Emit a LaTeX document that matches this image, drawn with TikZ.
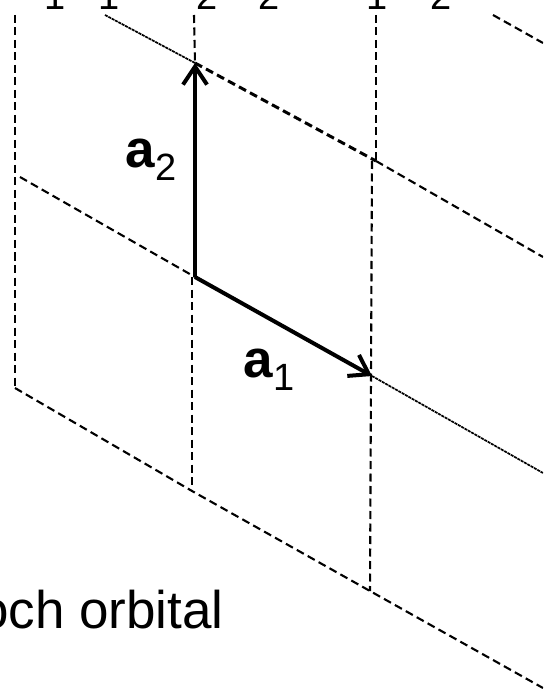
\documentclass[tikz,border=0pt]{standalone}
\usepackage{fontspec}
\setmainfont{Liberation Sans}
\usetikzlibrary{arrows.meta}
\tikzset{
  grid/.style={dash pattern=on 8pt off 4.5pt, line width=2.1pt},
  gridbold/.style={dash pattern=on 8pt off 4.5pt, line width=3pt},
  gridfine/.style={dash pattern=on 3pt off 0.8pt, line width=1.7pt},
  vec/.style={line width=4pt, -{Straight Barb[length=18pt, width=24pt, line width=4pt]}},
  big/.style={font=\fontsize{53}{60}\selectfont, inner sep=0pt},
  sub/.style={font=\fontsize{38}{40}\selectfont, inner sep=0pt}
}
\newcommand{\vecsub}[2]{\textbf{#1}{\fontsize{38}{40}\selectfont\raisebox{-13pt}{#2}}}
\begin{document}
\begin{tikzpicture}[x=1pt, y=-1pt]
  \useasboundingbox (0,0) rectangle (543,692);
  \clip (0,0) rectangle (543,692);
  % lattice points
  \coordinate (O) at (195,277);
  \coordinate (A1) at (372,376);
  \coordinate (A2) at (195,63);
  \coordinate (B1) at (376,161);
  \coordinate (C0) at (15,388);
  \coordinate (C1) at (192,491);
  \coordinate (C2) at (370,591);
  % vertical grid lines
  \draw[grid] (15,15) -- (C0);
  \draw[grid] (194,15) -- (A2);
  \draw[grid] (192,277) -- (C1);
  \draw[grid] (376,15) -- (B1);
  \draw[grid] (372,161) -- (C2);
  % slanted grid lines
  \draw[gridfine] (105,15) -- (A2);
  \draw[gridbold] (A2) -- (B1);
  \draw[grid] (B1) -- (543,257);
  \draw[grid] (20,177) -- (O);
  \draw[gridfine] (A1) -- (543,473);
  \draw[grid] (C0) -- (C1) -- (C2) -- (543,688);
  \draw[grid] (493,15) -- (543,43);
  % lattice vectors
  \draw[vec] (O) -- (A1);
  \draw[vec] (O) -- (A2);
  \node[big, anchor=base west] (la2) at (125,168) {\vecsub{a}{2}};
  \node[big, anchor=base west] (la1) at (243,377) {\vecsub{a}{1}};
  % cut text
  \node[big, anchor=base east] (bloch) at (224,628) {Bloch orbital};
  \foreach \x/\d [count=\i] in {55/1, 109/1, 207/2, 269/2, 377/1, 441/2}
    \node[sub, anchor=base] (top\i) at (\x,10) {\d};
\end{tikzpicture}
\end{document}
